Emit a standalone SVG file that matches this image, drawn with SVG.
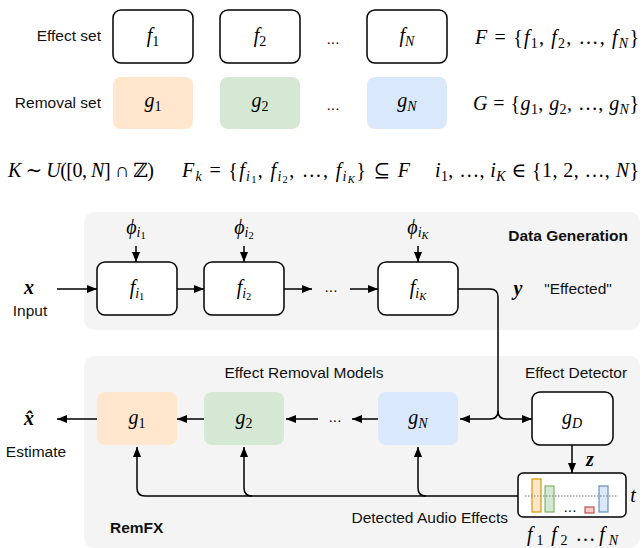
<svg xmlns="http://www.w3.org/2000/svg" width="642" height="548" viewBox="0 0 642 548">
<defs>
<style>
.t{font-family:"Liberation Sans",Arial,sans-serif;font-size:15.5px;fill:#111}
.b{font-weight:bold}
.m{font-family:"Liberation Serif","DejaVu Serif",serif;font-size:20px;font-style:italic;fill:#000}
.bm{font-family:"Liberation Serif","DejaVu Serif",serif;font-size:20px;font-style:italic;font-weight:bold;fill:#000}
.r{font-style:normal}
.s{font-size:14px}
.ss{font-size:10.5px}
.bx{fill:#fff;stroke:#000;stroke-width:1.5}
.o{fill:#ffe6cc}
.g{fill:#d5e8d4}
.bl{fill:#dae8fc}
.panel{fill:#f4f4f4}
.c{fill:none;stroke:#000;stroke-width:1.5}
.a{marker-end:url(#ar)}
</style>
<marker id="ar" markerUnits="userSpaceOnUse" markerWidth="10" markerHeight="8" refX="10" refY="4" orient="auto"><path d="M0,0 L10,4 L0,8 z" fill="#000"/></marker>
</defs>

<!-- panels -->
<rect id="panel-datagen" class="panel" x="84" y="212" width="556" height="118" rx="10"/>
<rect id="panel-remfx" class="panel" x="84" y="356" width="556" height="192" rx="10"/>

<!-- top sets -->
<text class="t" x="101" y="41" text-anchor="end">Effect set</text>
<text class="t" x="101" y="108" text-anchor="end">Removal set</text>

<g id="f1"><rect class="bx" x="113" y="10" width="80" height="53" rx="8"/><text class="m" x="153" y="42" text-anchor="middle">f<tspan class="s r" dy="4">1</tspan></text></g>
<g id="f2"><rect class="bx" x="220" y="10" width="80" height="53" rx="8"/><text class="m" x="260" y="42" text-anchor="middle">f<tspan class="s r" dy="4">2</tspan></text></g>
<text class="t" x="333" y="44" text-anchor="middle" font-size="12">...</text>
<g id="fN"><rect class="bx" x="367" y="10" width="80" height="53" rx="8"/><text class="m" x="407" y="42" text-anchor="middle">f<tspan class="s" dy="4">N</tspan></text></g>

<g id="g1"><rect class="o" x="113" y="77" width="80" height="52" rx="8"/><text class="m" x="153" y="107" text-anchor="middle">g<tspan class="s r" dy="4">1</tspan></text></g>
<g id="g2"><rect class="g" x="220" y="77" width="80" height="52" rx="8"/><text class="m" x="260" y="107" text-anchor="middle">g<tspan class="s r" dy="4">2</tspan></text></g>
<text class="t" x="333" y="110" text-anchor="middle" font-size="12">...</text>
<g id="gN"><rect class="bl" x="367" y="77" width="80" height="52" rx="8"/><text class="m" x="407" y="107" text-anchor="middle">g<tspan class="s" dy="4">N</tspan></text></g>

<text class="m" x="639" y="44" text-anchor="end" textLength="164" lengthAdjust="spacing">F<tspan class="r"> = {</tspan>f<tspan class="s r" dy="4">1</tspan><tspan class="r" dy="-4">, </tspan>f<tspan class="s r" dy="4">2</tspan><tspan class="r" dy="-4">, …, </tspan>f<tspan class="s" dy="4">N</tspan><tspan class="r" dy="-4">}</tspan></text>
<text class="m" x="639" y="110" text-anchor="end" textLength="166" lengthAdjust="spacing">G<tspan class="r"> = {</tspan>g<tspan class="s r" dy="4">1</tspan><tspan class="r" dy="-4">, </tspan>g<tspan class="s r" dy="4">2</tspan><tspan class="r" dy="-4">, …, </tspan>g<tspan class="s" dy="4">N</tspan><tspan class="r" dy="-4">}</tspan></text>

<!-- formula row -->
<text class="m" x="8" y="177" textLength="146" lengthAdjust="spacing">K<tspan class="r"> ∼ </tspan>U<tspan class="r">([0, </tspan>N<tspan class="r">] ∩ ℤ)</tspan></text>
<text class="m" x="182" y="177" textLength="228" lengthAdjust="spacing">F<tspan class="s" dy="4">k</tspan><tspan class="r" dy="-4"> = {</tspan>f<tspan class="s" dy="4">i</tspan><tspan class="ss r" dy="2">1</tspan><tspan class="r" dy="-6">, </tspan>f<tspan class="s" dy="4">i</tspan><tspan class="ss r" dy="2">2</tspan><tspan class="r" dy="-6">, …, </tspan>f<tspan class="s" dy="4">i</tspan><tspan class="ss" dy="2">K</tspan><tspan class="r" dy="-6">} ⊆ </tspan>F</text>
<text class="m" x="639" y="177" text-anchor="end" textLength="204" lengthAdjust="spacing">i<tspan class="s r" dy="4">1</tspan><tspan class="r" dy="-4">, …, </tspan>i<tspan class="s" dy="4">K</tspan><tspan class="r" dy="-4"> ∈ {1, 2, …, </tspan>N<tspan class="r">}</tspan></text>

<!-- data generation -->
<text class="t b" x="628" y="241" text-anchor="end" font-size="14.5">Data Generation</text>
<text class="bm" x="29" y="294" text-anchor="middle">x</text>
<text class="t" x="30" y="316" text-anchor="middle">Input</text>

<g id="phi1"><text class="m" x="136" y="234" text-anchor="middle">ϕ<tspan class="s" dy="3">i</tspan><tspan class="ss r" dy="2">1</tspan></text></g>
<g id="phi2"><text class="m" x="244" y="234" text-anchor="middle">ϕ<tspan class="s" dy="3">i</tspan><tspan class="ss r" dy="2">2</tspan></text></g>
<g id="phiK"><text class="m" x="418" y="234" text-anchor="middle">ϕ<tspan class="s" dy="3">i</tspan><tspan class="ss" dy="2">K</tspan></text></g>

<g id="fi1"><rect class="bx" x="97" y="262" width="80" height="53" rx="8"/><text class="m" x="137" y="294" text-anchor="middle">f<tspan class="s" dy="4">i</tspan><tspan class="ss r" dy="2">1</tspan></text></g>
<g id="fi2"><rect class="bx" x="204" y="262" width="80" height="53" rx="8"/><text class="m" x="244" y="294" text-anchor="middle">f<tspan class="s" dy="4">i</tspan><tspan class="ss r" dy="2">2</tspan></text></g>
<text class="t" x="331" y="292" text-anchor="middle" font-size="12">...</text>
<g id="fiK"><rect class="bx" x="378" y="262" width="80" height="53" rx="8"/><text class="m" x="418" y="294" text-anchor="middle">f<tspan class="s" dy="4">i</tspan><tspan class="ss" dy="2">K</tspan></text></g>

<text class="bm" x="518" y="295" text-anchor="middle">y</text>
<text class="t" x="578" y="294" text-anchor="middle">"Effected"</text>

<!-- remfx -->
<text class="t" x="304" y="378" text-anchor="middle">Effect Removal Models</text>
<text class="t" x="576" y="378" text-anchor="middle">Effect Detector</text>

<g id="rg1"><rect class="o" x="97" y="392" width="80" height="53" rx="8"/><text class="m" x="137" y="424" text-anchor="middle">g<tspan class="s r" dy="4">1</tspan></text></g>
<g id="rg2"><rect class="g" x="204" y="392" width="80" height="53" rx="8"/><text class="m" x="244" y="424" text-anchor="middle">g<tspan class="s r" dy="4">2</tspan></text></g>
<text class="t" x="335" y="422" text-anchor="middle" font-size="12">...</text>
<g id="rgN"><rect class="bl" x="378" y="392" width="80" height="53" rx="8"/><text class="m" x="418" y="424" text-anchor="middle">g<tspan class="s" dy="4">N</tspan></text></g>
<g id="gD"><rect class="bx" x="532" y="392" width="81" height="53" rx="8"/><text class="m" x="572" y="424" text-anchor="middle">g<tspan class="s" dy="4">D</tspan></text></g>

<text class="bm" x="29" y="425" text-anchor="middle">x̂</text>
<text class="t" x="36" y="457" text-anchor="middle">Estimate</text>

<text class="bm" x="590" y="466" text-anchor="middle">z</text>

<g id="detector">
<rect class="bx" x="518" y="473" width="108" height="44" rx="5"/>
<rect x="532" y="479" width="9" height="33" fill="#ffe6cc" stroke="#d79b00" stroke-width="1.2"/>
<rect x="545" y="486" width="9" height="26" fill="#d5e8d4" stroke="#82b366" stroke-width="1.2"/>
<rect x="585" y="507" width="9" height="6" fill="#f8cecc" stroke="#b85450" stroke-width="1.2"/>
<rect x="599" y="486" width="9" height="26" fill="#dae8fc" stroke="#6c8ebf" stroke-width="1.2"/>
<line x1="525" y1="496" x2="618" y2="496" stroke="#777" stroke-width="1" stroke-dasharray="1.5,1.5"/>
<text class="t" x="570" y="512" text-anchor="middle" font-size="12">...</text>
</g>
<text class="m" x="633" y="502" text-anchor="middle">t</text>
<text class="m" x="527" y="541" textLength="91" lengthAdjust="spacing">f<tspan class="s r" dy="4">1</tspan><tspan dx="4" dy="-4">f</tspan><tspan class="s r" dy="4">2</tspan><tspan class="r" dx="4" dy="-4">…</tspan>f<tspan class="s" dy="4">N</tspan></text>

<text class="t" x="508" y="523" text-anchor="end">Detected Audio Effects</text>
<text class="t b" x="110" y="533">RemFX</text>

<!-- connectors -->
<g id="connectors">
<path class="c a" d="M136,246 V262"/>
<path class="c a" d="M244,246 V262"/>
<path class="c a" d="M418,246 V262"/>
<path class="c a" d="M57,289 H97"/>
<path class="c a" d="M177,289 H204"/>
<path class="c a" d="M284,289 H312"/>
<path class="c a" d="M350,289 H378"/>
<path class="c" d="M458,289 H490 Q498,289 498,297 V411"/>
<path class="c a" d="M498,411 Q498,419 490,419 H460"/>
<path class="c a" d="M498,411 Q498,419 506,419 H532"/>
<path class="c a" d="M378,419 H352"/>
<path class="c a" d="M318,419 H286"/>
<path class="c a" d="M204,419 H177"/>
<path class="c a" d="M97,419 H57"/>
<path class="c a" d="M572,445 V473"/>
<path class="c a" d="M518,496 H145 Q137,496 137,488 V447"/>
<path class="c a" d="M252,496 Q244,496 244,488 V447"/>
<path class="c a" d="M426,496 Q418,496 418,488 V447"/>
</g>
</svg>
